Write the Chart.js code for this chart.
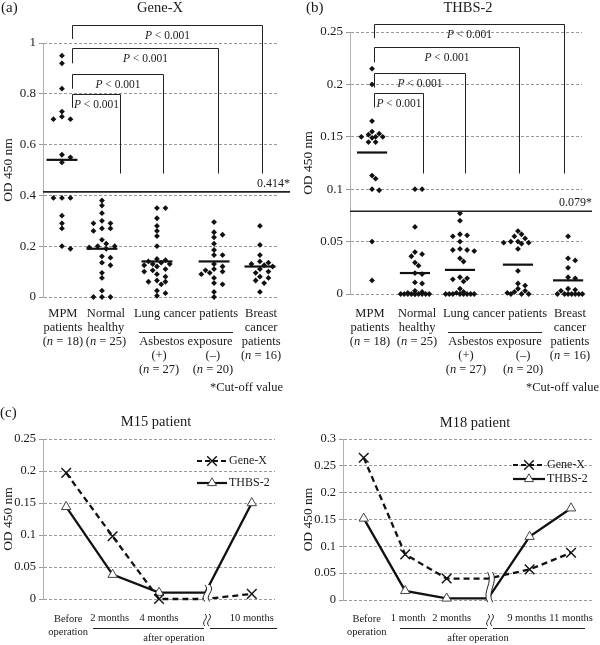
<!DOCTYPE html>
<html><head><meta charset="utf-8">
<script src="https://cdn.jsdelivr.net/npm/chart.js@4.4.1/dist/chart.umd.min.js"></script>
<style>
html,body{margin:0;padding:0;background:#fff;}
#wrap{position:relative;width:600px;height:645px;overflow:hidden;}
canvas{position:absolute;}
</style></head><body>
<div id="wrap">
<canvas id="ca" width="300" height="395" style="left:0;top:0"></canvas>
<canvas id="cb" width="300" height="395" style="left:300px;top:0"></canvas>
<canvas id="cc" width="300" height="250" style="left:0;top:395px"></canvas>
<canvas id="cd" width="300" height="250" style="left:300px;top:395px"></canvas>
</div>
<script>
const SERIF = '"Liberation Serif", "Times New Roman", serif';
const INK = '#1a1a1a';

// ---------------- data ----------------
const groupN = [18, 25, 27, 20, 16];

const geneX_MPM = [0.95,0.92,0.82,0.73,0.71,0.70,0.70,0.56,0.55,0.53,0.39,0.39,0.39,0.32,0.29,0.27,0.20,0.19];
const geneX_Normal = [0.38,0.36,0.33,0.30,0.29,0.29,0.27,0.27,0.26,0.225,0.21,0.20,0.20,0.195,0.19,0.16,0.155,0.135,0.125,0.095,0.075,0.025,0,0,0];
const geneX_LungPos = [0.35,0.35,0.31,0.28,0.26,0.24,0.20,0.15,0.145,0.14,0.135,0.13,0.13,0.125,0.12,0.11,0.105,0.10,0.09,0.08,0.065,0.06,0.06,0.05,0.025,0.015,0.005];
const geneX_LungNeg = [0.295,0.255,0.245,0.235,0.21,0.185,0.165,0.165,0.13,0.12,0.11,0.105,0.10,0.095,0.09,0.075,0.055,0.05,0.02,0.0];
const geneX_Breast = [0.28,0.205,0.165,0.14,0.135,0.13,0.125,0.12,0.11,0.10,0.095,0.08,0.075,0.065,0.055,0.02];
const geneX_Medians = [0.54,0.19,0.14,0.14,0.12];
const geneX_Cutoff = 0.414;

const thbs_MPM = [0.215,0.20,0.165,0.155,0.153,0.152,0.15,0.15,0.15,0.149,0.145,0.145,0.113,0.11,0.10,0.099,0.05,0.013];
const thbs_Normal = [0.10,0.10,0.064,0.04,0.038,0.036,0.03,0.027,0.02,0.019,0.011,0.01,0.003,0.002,0.001,0,0,0,0,0,0,0,0,0,0];
const thbs_LungPos = [0.077,0.07,0.057,0.056,0.055,0.05,0.043,0.042,0.042,0.041,0.034,0.031,0.016,0.015,0.014,0.012,0.005,0.002,0.001,0,0,0,0,0,0,0,0];
const thbs_LungNeg = [0.06,0.057,0.055,0.053,0.05,0.05,0.049,0.049,0.048,0.043,0.022,0.01,0.008,0.005,0.003,0.002,0.001,0,0,0];
const thbs_Breast = [0.055,0.034,0.032,0.025,0.016,0.015,0.005,0.004,0.003,0,0,0,0,0,0,0];
const thbs_Medians = [0.135,0.02,0.023,0.028,0.013];
const thbs_Cutoff = 0.079;

const pValue = '< 0.001';

const m15Labels = [['Before','operation'],'2 months','4 months','','10 months'];
const m15GeneX = [0.197,0.098,0.0,0.0,0.008];
const m15THBS = [0.144,0.038,0.01,0.01,0.15];

const m18Labels = [['Before','operation'],'1 month','2 months','','9 months','11 months'];
const m18GeneX = [0.265,0.085,0.04,0.04,0.057,0.088];
const m18THBS = [0.152,0.017,0.003,0.003,0.118,0.171];

// ---------------- helpers ----------------
function txt(ctx, s, x, y, size, align, italic) {
  ctx.font = (italic ? 'italic ' : '') + size + 'px ' + SERIF;
  ctx.textAlign = align || 'center'; ctx.textBaseline = 'middle'; ctx.fillStyle = INK;
  ctx.fillText(s, x, y);
}
function mixed(ctx, parts, cx, y, size) {
  const ws = []; let total = 0;
  parts.forEach(([s, it]) => { ctx.font = (it ? 'italic ' : '') + size + 'px ' + SERIF; const w = ctx.measureText(s).width; ws.push(w); total += w; });
  let x = cx - total / 2;
  parts.forEach(([s, it], i) => { txt(ctx, s, x, y, size, 'left', it); x += ws[i]; });
}
function nLabel(n) { return [['(', false], ['n', true], [' = ' + n + ')', false]]; }
function line(ctx, pts, w) {
  ctx.beginPath(); ctx.moveTo(pts[0][0], pts[0][1]);
  for (let i = 1; i < pts.length; i++) ctx.lineTo(pts[i][0], pts[i][1]);
  ctx.lineWidth = w || 1; ctx.strokeStyle = '#222'; ctx.stroke();
}
// simple deterministic beeswarm: horizontal offsets computed so dots do not pile up
function swarm(vals, cx, W, H, ymax, minD, maxSpread) {
  const sorted = vals.slice().sort((a, b) => b - a);
  const placed = [], out = [];
  for (const v of sorted) {
    const py = v / ymax * H;
    let best = 0, bestD = -1;
    for (let k = 0; k < 80; k++) {
      const dx = k === 0 ? 0 : (k % 2 ? 1 : -1) * Math.ceil(k / 2) * minD * 0.85;
      if (Math.abs(dx) > maxSpread) break;
      let d = Infinity;
      placed.forEach(p => { d = Math.min(d, Math.hypot(p.x - dx, p.y - py)); });
      if (d >= minD) { best = dx; bestD = d; break; }
      if (d > bestD + 0.01) { bestD = d; best = dx; }
    }
    placed.push({ x: best, y: py });
    out.push({ x: cx + best / W, y: v });
  }
  return out;
}
function yAxis(cfg, title) {
  return {
    min: 0, max: cfg.ymax,
    ticks: { stepSize: cfg.step, color: INK, padding: 3, font: { family: SERIF, size: cfg.tickSize || 13 },
      callback: v => String(+(+v).toFixed(3)) },
    grid: { color: '#9a9a9a', lineWidth: 1, tickLength: 4 },
    border: { display: true, color: '#b0b0b0', width: 1, dash: [3, 2] },
    title: { display: true, text: title, color: INK, padding: 0, font: { family: SERIF, size: 13.5 } },
    afterFit: s => { s.width = cfg.axisW; }
  };
}

// ---------------- scatter panels (a),(b) ----------------
function scatterPanel(cfg) {
  const W = 300 - cfg.axisW - cfg.pad.right;
  const H = 395 - cfg.pad.top - cfg.pad.bottom;
  const datasets = [];
  cfg.groups.forEach((vals, gi) => {
    datasets.push({ type: 'scatter', data: swarm(vals, cfg.centers[gi], W, H, cfg.ymax, cfg.minD, cfg.spread),
      pointStyle: 'rectRot', pointRadius: 2.9, backgroundColor: '#111', borderColor: '#111', borderWidth: 0, clip: false });
  });
  cfg.medians.forEach((m, gi) => {
    const c = cfg.centers[gi];
    datasets.push({ type: 'line', data: [{ x: c - cfg.medHalf, y: m }, { x: c + cfg.medHalf, y: m }],
      borderColor: '#111', borderWidth: 2.2, pointRadius: 0, clip: false });
  });
  const deco = {
    id: 'deco' + cfg.id,
    afterDraw(chart) {
      const ctx = chart.ctx, xs = chart.scales.x, ys = chart.scales.y, ca = chart.chartArea;
      const X = v => xs.getPixelForValue(v), Y = v => ys.getPixelForValue(v);
      ctx.save();
      txt(ctx, cfg.letter, cfg.letterX, 8, 15, 'left');
      txt(ctx, cfg.title, cfg.titleX, 8, 14.5, 'center');
      // significance brackets
      const br = cfg.br, lx = Math.round(X(br.left)) + 0.5;
      br.tops.forEach((t, i) => {
        const rx = Math.round(X(br.rights[i])) + 0.5, ty = Math.round(Y(t)) + 0.5;
        line(ctx, [[lx, Y(br.leftBottoms[i])], [lx, ty], [rx, ty], [rx, Y(br.rightBottom)]], 1);
        mixed(ctx, [['P', true], [' ' + pValue, false]], (lx + rx) / 2, ty + 10, 11.5);
      });
      // cutoff line
      const cy = Y(cfg.cutoff);
      line(ctx, [[ca.left, cy], [ca.right + cfg.cutExtend, cy]], 1.6);
      txt(ctx, cfg.cutoffLabel, ca.right + cfg.cutExtend, cy - 8, 12, 'right');
      // category labels
      const L = cfg.labelX, fs = 12.5, r1 = 314, dr = 14;
      txt(ctx, 'MPM', X(L[0]), r1, fs); txt(ctx, 'patients', X(L[0]), r1 + dr, fs); mixed(ctx, nLabel(groupN[0]), X(L[0]), r1 + 2 * dr, fs);
      txt(ctx, 'Normal', X(L[1]), r1, fs); txt(ctx, 'healthy', X(L[1]), r1 + dr, fs); mixed(ctx, nLabel(groupN[1]), X(L[1]), r1 + 2 * dr, fs);
      const lc = X(L[2]);
      txt(ctx, 'Lung cancer patients', lc, r1, fs);
      line(ctx, [[lc - 47, 332.5], [lc + 47, 332.5]], 1.2);
      txt(ctx, 'Asbestos exposure', lc, r1 + 2 * dr, fs);
      txt(ctx, '(+)', X(L[3]), r1 + 3 * dr, fs); mixed(ctx, nLabel(groupN[2]), X(L[3]), r1 + 4 * dr, fs);
      txt(ctx, '(–)', X(L[4]), r1 + 3 * dr, fs); mixed(ctx, nLabel(groupN[3]), X(L[4]), r1 + 4 * dr, fs);
      txt(ctx, 'Breast', X(L[5]), r1, fs); txt(ctx, 'cancer', X(L[5]), r1 + dr, fs); txt(ctx, 'patients', X(L[5]), r1 + 2 * dr, fs);
      mixed(ctx, nLabel(groupN[4]), X(L[5]), r1 + 3 * dr, fs);
      txt(ctx, '*Cut-off value', cfg.noteX, 388, fs, 'right');
      ctx.restore();
    }
  };
  new Chart(document.getElementById(cfg.id), {
    type: 'scatter', data: { datasets },
    options: {
      responsive: false, animation: false, events: [],
      layout: { padding: { top: cfg.pad.top, bottom: cfg.pad.bottom, left: 0, right: cfg.pad.right } },
      plugins: { legend: { display: false }, tooltip: { enabled: false } },
      scales: { x: { type: 'linear', min: 0, max: 1, display: false }, y: yAxis(cfg, 'OD 450 nm') }
    },
    plugins: [deco]
  });
}

scatterPanel({
  id: 'ca', letter: '(a)', letterX: 1, title: 'Gene-X', titleX: 160,
  groups: [geneX_MPM, geneX_Normal, geneX_LungPos, geneX_LungNeg, geneX_Breast],
  medians: geneX_Medians, cutoff: geneX_Cutoff, cutoffLabel: '0.414*',
  ymax: 1, step: 0.2, axisW: 43, pad: { top: 43, bottom: 98, right: 23 },
  minD: 5, spread: 15,
  centers: [0.081, 0.252, 0.487, 0.731, 0.927], medHalf: 0.066,
  br: { left: 0.124, rights: [0.329, 0.513, 0.748, 0.936], tops: [0.8, 0.878, 0.98, 1.07], leftBottoms: [0.745, 0.82, 0.92, 1.016], rightBottom: 0.486 },
  labelX: [0.085, 0.269, 0.611, 0.496, 0.726, 0.932], cutExtend: 13, noteX: 283
});
scatterPanel({
  id: 'cb', letter: '(b)', letterX: 6, title: 'THBS-2', titleX: 168,
  groups: [thbs_MPM, thbs_Normal, thbs_LungPos, thbs_LungNeg, thbs_Breast],
  medians: thbs_Medians, cutoff: thbs_Cutoff, cutoffLabel: '0.079*',
  ymax: 0.25, step: 0.05, axisW: 50, pad: { top: 32, bottom: 101, right: 18 },
  minD: 4.2, spread: 17,
  centers: [0.095, 0.28, 0.474, 0.724, 0.94], medHalf: 0.065,
  br: { left: 0.103, rights: [0.315, 0.496, 0.728, 0.922], tops: [0.192, 0.211, 0.236, 0.258], leftBottoms: [0.178, 0.197, 0.221, 0.244], rightBottom: 0.115 },
  labelX: [0.086, 0.289, 0.625, 0.5, 0.746, 0.948], cutExtend: 10, noteX: 299
});

// ---------------- time-course panels (c) ----------------
function drawBreak(ctx, x, y1, y2, gap, amp) {
  const h = y2 - y1, xl = x - gap / 2, xr = x + gap / 2;
  ctx.save();
  ctx.beginPath();
  ctx.moveTo(xl, y1);
  ctx.bezierCurveTo(xl + amp, y1 + h * 0.35, xl - amp, y1 + h * 0.65, xl, y2);
  ctx.lineTo(xr, y2);
  ctx.bezierCurveTo(xr - amp, y1 + h * 0.65, xr + amp, y1 + h * 0.35, xr, y1);
  ctx.closePath(); ctx.fillStyle = '#fff'; ctx.fill();
  ctx.beginPath();
  ctx.moveTo(xl, y1); ctx.bezierCurveTo(xl + amp, y1 + h * 0.35, xl - amp, y1 + h * 0.65, xl, y2);
  ctx.moveTo(xr, y1); ctx.bezierCurveTo(xr + amp, y1 + h * 0.35, xr - amp, y1 + h * 0.65, xr, y2);
  ctx.strokeStyle = '#222'; ctx.lineWidth = 1; ctx.stroke();
  ctx.restore();
}
function marker(ctx, kind, x, y) {
  ctx.save();
  if (kind === 'x') {
    const r = 4.8;
    ctx.beginPath(); ctx.moveTo(x - r, y - r); ctx.lineTo(x + r, y + r); ctx.moveTo(x - r, y + r); ctx.lineTo(x + r, y - r);
    ctx.strokeStyle = '#111'; ctx.lineWidth = 1.4; ctx.stroke();
  } else {
    const r = 5.2;
    ctx.beginPath(); ctx.moveTo(x, y - r); ctx.lineTo(x + r * 0.866, y + r * 0.5); ctx.lineTo(x - r * 0.866, y + r * 0.5); ctx.closePath();
    ctx.fillStyle = '#fff'; ctx.fill(); ctx.strokeStyle = '#444'; ctx.lineWidth = 1; ctx.stroke();
  }
  ctx.restore();
}
function timePanel(cfg) {
  const brk = cfg.labels.indexOf('');
  const radii = r => cfg.labels.map((l, i) => i === brk ? 0 : r);
  const deco = {
    id: 'deco' + cfg.id,
    afterDatasetsDraw(chart) {
      const ctx = chart.ctx, xs = chart.scales.x, ys = chart.scales.y;
      const bx = xs.getPixelForValue(brk);
      drawBreak(ctx, bx + 2, ys.getPixelForValue(cfg.brk[1]), ys.getPixelForValue(cfg.brk[0]), 5, 6);
    },
    afterDraw(chart) {
      const ctx = chart.ctx, xs = chart.scales.x;
      ctx.save();
      if (cfg.letter) txt(ctx, cfg.letter, 0, 18, 15, 'left');
      txt(ctx, cfg.title, cfg.titleX, cfg.titleY, 14.5, 'center');
      cfg.labels.forEach((l, i) => {
        if (l === '') return;
        const x = xs.getPixelForValue(i) + (cfg.labelShift[i] || 0);
        if (Array.isArray(l)) { txt(ctx, l[0], x, 224, 10.5); txt(ctx, l[1], x, 237, 10.5); }
        else txt(ctx, l, x, 223, 10.5);
      });
      const a = cfg.axisLine;
      line(ctx, [[a.x0, 233.5], [a.bx - 3, 233.5]], 1.2);
      line(ctx, [[a.bx + 3, 233.5], [a.x1, 233.5]], 1.2);
      drawBreak(ctx, a.bx, 219, 231, 4, 5);
      txt(ctx, 'after operation', a.tx, 243, 10.5);
      const g = cfg.legend;
      ctx.save(); ctx.strokeStyle = '#111'; ctx.lineWidth = 2.2;
      ctx.setLineDash([5, 3]); ctx.beginPath(); ctx.moveTo(g.x0, g.y1); ctx.lineTo(g.x1, g.y1); ctx.stroke();
      ctx.setLineDash([]); ctx.beginPath(); ctx.moveTo(g.x0, g.y2); ctx.lineTo(g.x1, g.y2); ctx.stroke();
      ctx.restore();
      marker(ctx, 'x', (g.x0 + g.x1) / 2, g.y1);
      marker(ctx, 't', (g.x0 + g.x1) / 2, g.y2);
      txt(ctx, 'Gene-X', g.x1 + 2, g.y1, 12, 'left');
      txt(ctx, 'THBS-2', g.x1 + 2, g.y2, 12, 'left');
      ctx.restore();
    }
  };
  new Chart(document.getElementById(cfg.id), {
    type: 'line',
    data: { labels: cfg.labels, datasets: [
      { label: 'Gene-X', data: cfg.gene, borderColor: '#111', borderWidth: 2.3, borderDash: [6, 4], tension: 0,
        pointStyle: 'crossRot', pointRadius: radii(6.8), pointBorderWidth: 1.4, pointBorderColor: '#111', pointBackgroundColor: '#111', clip: false },
      { label: 'THBS-2', data: cfg.thbs, borderColor: '#111', borderWidth: 2.3, tension: 0,
        pointStyle: 'triangle', pointRadius: radii(5.4), pointBorderWidth: 1, pointBorderColor: '#444', pointBackgroundColor: '#fff', clip: false }
    ] },
    options: {
      responsive: false, animation: false, events: [],
      layout: { padding: { top: cfg.pad.top, bottom: cfg.pad.bottom, left: 0, right: cfg.pad.right } },
      plugins: { legend: { display: false }, tooltip: { enabled: false } },
      scales: { x: { display: false, offset: true }, y: yAxis(cfg, 'OD 450 nm') }
    },
    plugins: [deco]
  });
}

timePanel({
  id: 'cc', letter: '(c)', title: 'M15 patient', titleX: 156, titleY: 27,
  labels: m15Labels, gene: m15GeneX, thbs: m15THBS,
  ymax: 0.25, step: 0.05, tickSize: 12.5, axisW: 43, pad: { top: 44, bottom: 46, right: 25 },
  brk: [-0.004, 0.022], labelShift: [2, -3, 0, 0, 0],
  axisLine: { x0: 93, x1: 277, bx: 207, tx: 174 },
  legend: { x0: 197, x1: 227, y1: 66, y2: 88 }
});
timePanel({
  id: 'cd', letter: '', title: 'M18 patient', titleX: 175, titleY: 28,
  labels: m18Labels, gene: m18GeneX, thbs: m18THBS,
  ymax: 0.3, step: 0.05, tickSize: 12.5, axisW: 43, pad: { top: 44, bottom: 45, right: 3 },
  brk: [-0.004, 0.052], labelShift: [3, 3, 5, 0, -3, 0],
  axisLine: { x0: 100, x1: 285, bx: 190, tx: 178 },
  legend: { x0: 213, x1: 245, y1: 70, y2: 84 }
});
</script>
</body></html>
